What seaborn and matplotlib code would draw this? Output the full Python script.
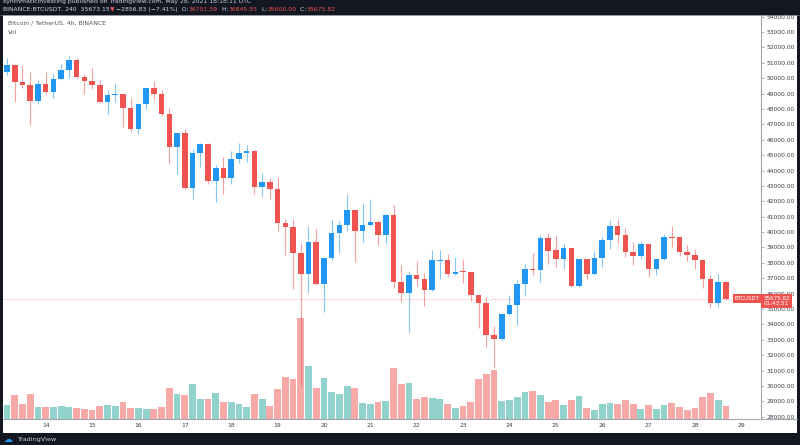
import numpy as np
import pandas as pd
import matplotlib
matplotlib.use("Agg")
import matplotlib.pyplot as plt
from matplotlib.patches import Rectangle
from matplotlib.lines import Line2D
import seaborn as sns

# ---------------- data (BTC/USDT, 4h candles, 13 May 04:00 -> 28 May 16:00) ----------------
opens = [50427, 50860, 49733, 49581, 48520, 49646, 49126, 49950, 50513, 51185,
         50080, 49820, 49581, 48433, 48910, 48975, 48086, 46721, 48346, 49386,
         48996, 47653, 45507, 46418, 42860, 45118, 45725, 43298, 44165, 43493,
         44771, 45161, 45291, 42908, 43233, 42821, 40567, 40351, 38661, 37274,
         39332, 36624, 38314, 39917, 40437, 41434, 40091, 40481, 40632, 39810,
         41110, 36776, 36017, 37231, 36927, 36234, 38150, 38185, 37253, 37448,
         37404, 35887, 35367, 33287, 33027, 34652, 35237, 36624, 37599, 37512,
         39593, 38813, 38271, 38965, 36494, 38228, 37274, 38315, 39485, 40416,
         39831, 38726, 38466, 39225, 37578, 38228, 39658, 39658, 38726, 38488,
         38206, 36971, 35367, 36751.59]
highs = [51293, 50903, 50860, 50427, 49863, 50383, 50253, 50947, 51467, 51293,
         50297, 50686, 49863, 49256, 49690, 48996, 48736, 48390, 49430, 49820,
         49256, 48086, 46439, 46699, 45378, 45768, 45760, 44381, 44901, 45248,
         45768, 45638, 45320, 43818, 43515, 43558, 40871, 40871, 39267, 40394,
         40221, 38350, 40784, 40697, 42474, 41460, 41868, 42171, 40785, 41175,
         41760, 37838, 37448, 38098, 37318, 38835, 38835, 38575, 38401, 38271,
         37430, 35910, 35757, 33894, 34680, 35887, 36885, 37924, 38618, 39788,
         39918, 39788, 39225, 38990, 38271, 38250, 38748, 39701, 40785, 40871,
         40265, 39355, 39441, 39250, 38271, 39875, 40395, 39680, 39138, 38878,
         38230, 37188, 37274, 36845.93]
lows = [50210, 48433, 49386, 46959, 48303, 48996, 48736, 49863, 49993, 50036,
        48996, 49300, 48390, 47653, 48476, 46829, 46526, 46396, 48000, 48606,
        47566, 44402, 43795, 42755, 42171, 44251, 43124, 41976, 42474, 43124,
        44511, 44555, 42474, 42301, 42171, 40091, 38530, 36320, 30000, 36060,
        36580, 34803, 38184, 38661, 40091, 38054, 39354, 40394, 39181, 39225,
        36364, 35454, 33460, 36494, 35194, 36200, 36927, 37101, 37231, 36711,
        35497, 33764, 32550, 31165, 32940, 34587, 33980, 35844, 37231, 36776,
        37924, 37751, 37578, 36451, 36407, 36971, 37231, 37751, 38921, 39311,
        38401, 37881, 38271, 37101, 37188, 38185, 39051, 38445, 38141, 37621,
        36364, 35064, 35150, 35600.00]
closes = [50860, 49733, 49581, 48520, 49646, 49126, 49950, 50513, 51185, 50080,
          49820, 49581, 48433, 48910, 48975, 48086, 46721, 48346, 49386, 48996,
          47653, 45507, 46418, 42860, 45118, 45725, 43298, 44165, 43493, 44771,
          45161, 45291, 42908, 43233, 42821, 40567, 40351, 38661, 37274, 39332,
          36624, 38314, 39917, 40437, 41434, 40091, 40481, 40632, 39810, 41110,
          36776, 36017, 37231, 36927, 36234, 38163, 38185, 37253, 37426, 37383,
          35887, 35367, 33287, 33027, 34652, 35237, 36624, 37599, 37512, 39593,
          38770, 38271, 38965, 36494, 38228, 37274, 38315, 39485, 40416, 39831,
          38726, 38466, 39225, 37578, 38228, 39658, 39615, 38726, 38488, 38206,
          36971, 35367, 36754, 35675.82]
volumes = [8600, 14400, 9000, 15000, 7400, 7000, 7400, 8000, 7400, 6800,
           5800, 5400, 7600, 8600, 7800, 10400, 6800, 6800, 5800, 5800,
           7400, 18800, 14800, 14400, 20800, 12200, 11800, 15800, 10400, 10000,
           9000, 7000, 15200, 11800, 7800, 18200, 25000, 23800, 60400, 31800,
           18800, 24600, 16400, 15200, 19600, 18400, 9400, 8800, 10000, 11000,
           30600, 20800, 21600, 11800, 13000, 12400, 11800, 8800, 6600, 7600,
           10200, 24200, 26800, 29600, 10800, 11400, 13000, 16200, 16600, 14600,
           10200, 11200, 8400, 11600, 14000, 6600, 5600, 8800, 9400, 9000,
           11600, 9200, 6000, 8200, 6000, 8400, 9400, 7000, 5400, 6400,
           13000, 15400, 11400, 7600]
day_labels = ["14", "15", "16", "17", "18", "19", "20", "21", "22",
              "23", "24", "25", "26", "27", "28", "29"]
price_ticks = list(range(28000, 54001, 1000))
last_price = 35675.82

# ---------------- styling ----------------
sns.set_theme(style="white")
plt.rcParams['font.family'] = ['DejaVu Sans']

UP = '#2196f3'
DOWN = '#ef5350'
VOL_UP = '#92d2cc'
VOL_DOWN = '#f7a9a7'
DARK = '#131722'
AXC = '#a3a6af'
TXT = '#3b3e47'

W, H = 800, 445
fig = plt.figure(figsize=(W / 100, H / 100), dpi=100, facecolor=DARK)


def fx(px):
    return px / W


def fy(py):
    return 1 - py / H


# white chart panel
fig.patches.append(Rectangle((fx(3), fy(433)), fx(797) - fx(3), fy(15) - fy(433),
                             transform=fig.transFigure, facecolor='white',
                             edgecolor='none', zorder=-1))

rect = [fx(3), fy(419), fx(761) - fx(3), fy(15) - fy(419)]
n = len(opens)
idx = np.arange(n)
o = np.array(opens, float)
c = np.array(closes, float)
hi = np.array(highs, float)
lo = np.array(lows, float)
up = c >= o

# ---------------- volume (seaborn) ----------------
vax = fig.add_axes(rect, zorder=1)
vax.set_facecolor('none')
df = pd.DataFrame({'idx': idx, 'vol': volumes,
                   'dir': np.where(up, 'up', 'down')})
sns.barplot(data=df, x='idx', y='vol', hue='dir',
            palette={'up': VOL_UP, 'down': VOL_DOWN},
            native_scale=True, width=0.88, saturation=1, errorbar=None,
            legend=False, linewidth=0, ax=vax)
xlim = (-0.52, 97.54)
vax.set_xlim(*xlim)
vax.set_ylim(0, 242400)
vax.axis('off')

# ---------------- candles ----------------
ax = fig.add_axes(rect, zorder=2)
ax.set_facecolor('none')
wick_cols = [(33 / 255, 150 / 255, 243 / 255, 0.55) if u else (239 / 255, 83 / 255, 80 / 255, 0.55) for u in up]
body_cols = [UP if u else DOWN for u in up]
ax.vlines(idx, lo, hi, colors=wick_cols, linewidth=0.8, zorder=2)
ax.bar(idx, np.maximum(np.abs(c - o), 65), bottom=np.minimum(o, c), width=0.72,
       color=body_cols, linewidth=0, zorder=3)

ax.set_xlim(*xlim)
ax.set_ylim(27850, 54110)

# last price line
ax.axhline(last_price, color=DOWN, alpha=0.55, lw=0.6, linestyle=(0, (1, 1.5)), zorder=1)

# axes styling
for s in ['left', 'top']:
    ax.spines[s].set_visible(False)
for s in ['right', 'bottom']:
    ax.spines[s].set_color(AXC)
    ax.spines[s].set_linewidth(0.8)
ax.yaxis.tick_right()
ax.set_yticks(price_ticks)
ax.set_yticklabels([f"{v:.2f}" for v in price_ticks])
ax.set_xticks([5 + 6 * k for k in range(len(day_labels))])
ax.set_xticklabels(day_labels)
ax.tick_params(axis='y', direction='out', length=2.5, width=0.6, color=AXC,
               labelcolor=TXT, labelsize=4.3, pad=1.5, left=False, right=True)
ax.tick_params(axis='x', direction='out', length=2.0, width=0.6, color=AXC,
               labelcolor=TXT, labelsize=4.3, pad=1.2)
ax.grid(False)
fig.add_artist(Line2D([fx(761), fx(797)], [fy(419), fy(419)], color=AXC, lw=0.8,
                      transform=fig.transFigure, zorder=3))

# BTCUSDT label and price box
ax.text(0.9985, last_price, "BTCUSDT", transform=ax.get_yaxis_transform(),
        ha='right', va='center', fontsize=3.9, color='white', zorder=10,
        bbox=dict(boxstyle='square,pad=0.35', facecolor=DOWN, edgecolor='none'))
ax.text(1.003, last_price - 150, "35675.82\n01:43:51", transform=ax.get_yaxis_transform(),
        ha='left', va='center', fontsize=4.1, color='white', zorder=10, clip_on=False,
        linespacing=1.15,
        bbox=dict(boxstyle='square,pad=0.35', facecolor=DOWN, edgecolor='none'))

# legend text
fig.text(fx(8), fy(23), "Bitcoin / TetherUS, 4h, BINANCE", fontsize=4.4, color='#50535e',
         va='center', ha='left')
fig.text(fx(8), fy(32.5), "Vol", fontsize=4.4, color='#50535e', va='center', ha='left')

# header bar
fig.patches.append(Rectangle((0, fy(15)), 1, 1 - fy(15), transform=fig.transFigure,
                             facecolor=DARK, edgecolor='none', zorder=5))
fig.add_artist(Line2D([0, 1], [fy(15), fy(15)], color='#6b6e78', lw=0.5,
                      transform=fig.transFigure, zorder=6))
fig.text(fx(3), fy(1.5), "synthmaticinvesting published on TradingView.com, May 28, 2021 18:18:11 UTC",
         fontsize=4.4, color='#d1d4dc', va='center', ha='left', zorder=7)

segments = [("BINANCE:BTCUSDT, 240  35673.15", '#d1d4dc'), ("▼", DOWN),
            (" −2856.83 (−7.41%)  O:", '#d1d4dc'), ("36751.59", DOWN),
            ("  H:", '#d1d4dc'), ("36845.93", DOWN), ("  L:", '#d1d4dc'),
            ("35600.00", DOWN), ("  C:", '#d1d4dc'), ("35675.82", DOWN)]
renderer = fig.canvas.get_renderer()
xpos = 3.0
for txt, col in segments:
    t = fig.text(fx(xpos), fy(9.3), txt, fontsize=4.4, color=col, va='center',
                 ha='left', zorder=7)
    bb = t.get_window_extent(renderer=renderer)
    xpos += bb.width

# footer
fig.patches.append(Rectangle((0, 0), 1, fy(433), transform=fig.transFigure,
                             facecolor=DARK, edgecolor='none', zorder=5))
fig.text(fx(4), fy(440), "☁", fontsize=6.5, color='#2196f3', va='center', ha='left', zorder=7)
fig.text(fx(17), fy(440), "TradingView", fontsize=4.6, color='#d1d4dc', va='center',
         ha='left', zorder=7)

fig.savefig("out.png", dpi=100, facecolor=fig.get_facecolor())
